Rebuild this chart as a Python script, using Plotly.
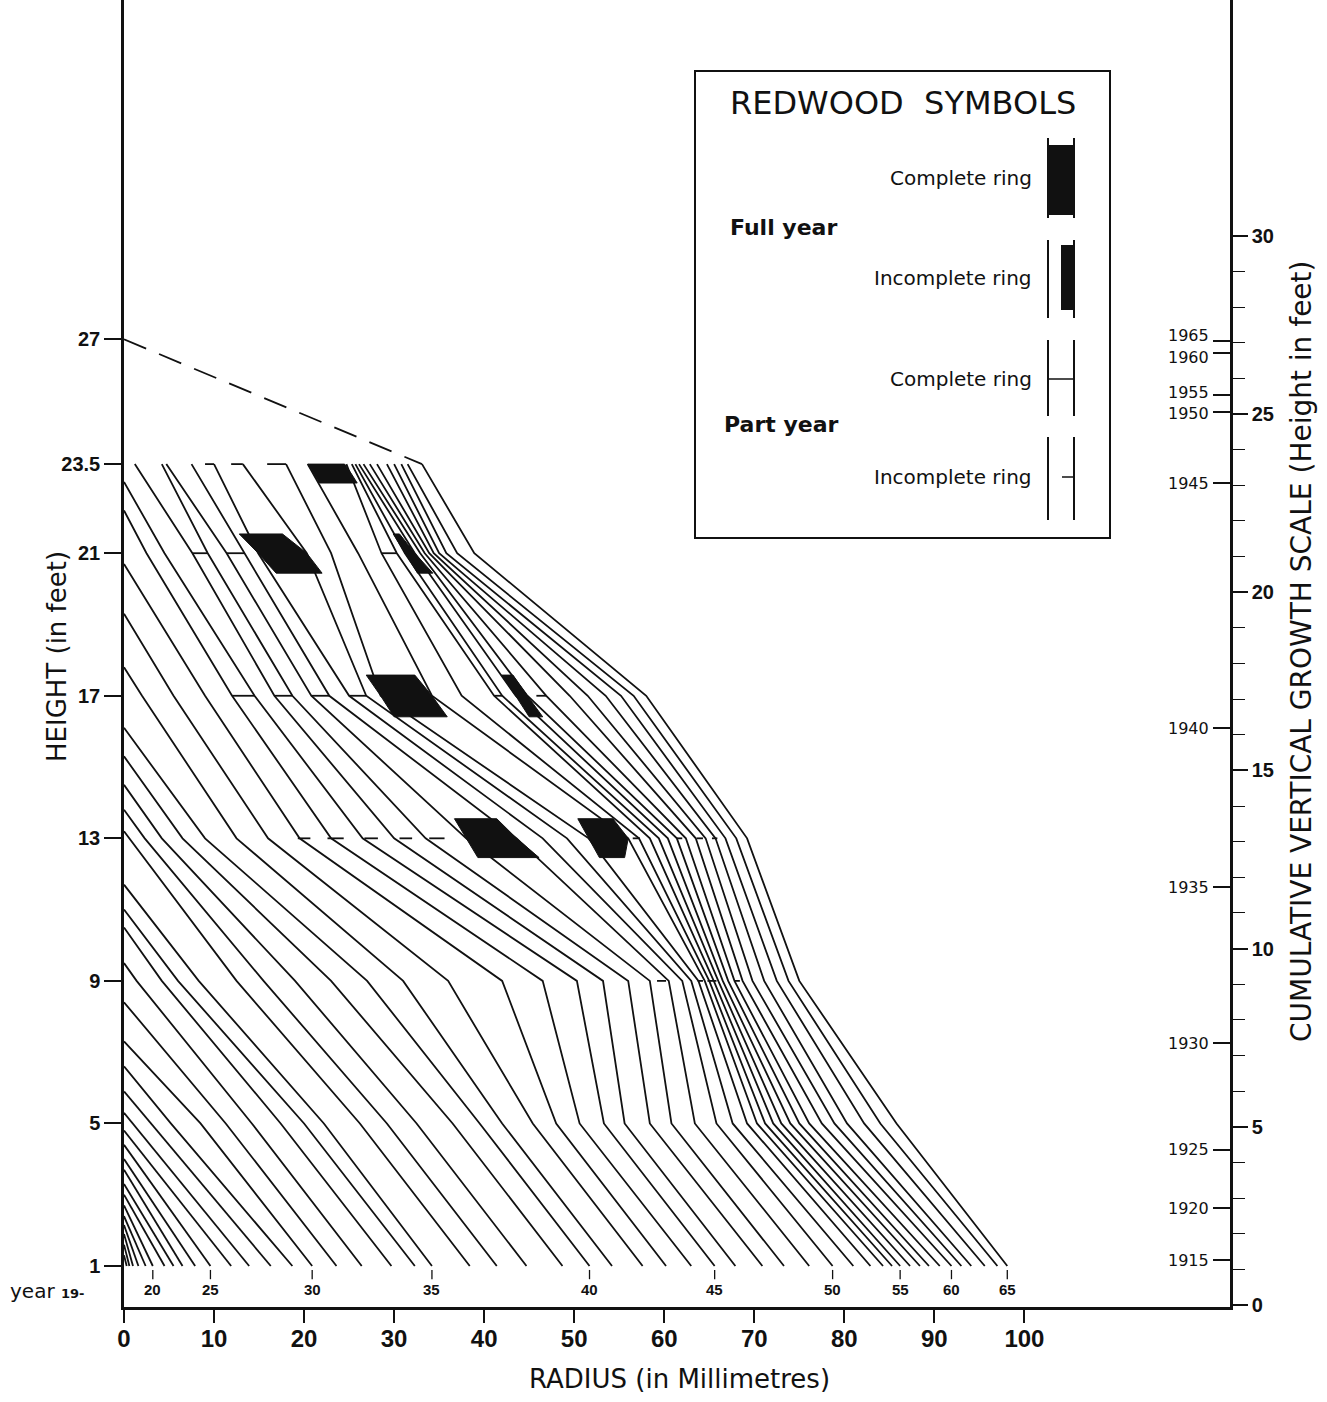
import plotly.graph_objects as go

# ---------------- DATA ----------------
YEARS = list(range(1915, 1966))
MEAS_H = [1, 5, 9, 13, 17, 21, 23.5]

# height (ft) at which each ring reaches the pith (tree top that year), 1915..1945
TOP_H = [1.3, 1.6, 1.9, 2.15, 2.4, 2.7, 3.0, 3.3, 3.7, 4.0,
         4.4, 4.8, 5.3, 5.9, 6.6, 7.3, 8.4, 9.5, 10.5, 11.0,
         11.7, 13.2, 13.8, 14.5, 15.3, 16.1, 17.8, 19.3, 20.7, 22.2, 23.0]

# radius (mm) of each ring boundary at each measurement height
R1 = [0.3, 0.6, 1.0, 1.6, 2.4, 3.2, 4.5, 5.5, 6.5, 7.9,
      9.6, 11.9, 13.9, 16.3, 18.7, 20.9, 23.6, 26.4, 29.7, 32.3,
      34.2, 38.4, 41.4, 44.7, 48.7, 51.7, 54.2, 57.6, 60.2, 63.0,
      65.6, 67.9, 70.9, 73.3, 76.1, 78.7, 81.0, 82.9, 84.3, 85.3,
      86.2, 87.3, 88.4, 89.4, 90.6, 91.9, 93.0, 94.1, 95.6, 97.0, 98.1]       # 1915..
R5 = [1.0, 3.0, 5.2, 8.5, 11.3, 14.2, 17.4, 20.0, 22.2, 26.2,
      29.2, 32.5, 36.5, 39.5, 42.0, 45.4, 48.0, 50.6, 53.3, 55.6,
      58.4, 60.8, 63.4, 65.8, 67.6, 69.2, 70.3, 71.2, 72.1, 73.0,
      74.0, 75.0, 76.1, 77.5, 78.9, 80.3, 82.2, 84.0, 85.8]                   # 1927..
R9 = [1.4, 4.2, 6.0, 8.3, 12.5, 15.5, 19.0, 23.0, 27.0, 31.0,
      36.0, 42.0, 46.5, 50.3, 53.2, 56.0, 58.4, 60.5, 62.0, 63.0,
      63.8, 64.5, 65.0, 65.5, 66.0, 66.5, 67.1, 67.8, 68.7, 69.8,
      71.1, 72.5, 73.8, 75.0]                                                  # 1932..
R13 = [0.6, 2.3, 4.2, 6.5, 9.0, 12.5, 16.0, 19.5, 23.0, 26.5,
       30.0, 33.5, 38.0, 43.6, 46.5, 49.2, 51.6, 56.0, 57.2, 58.4,
       59.4, 60.4, 61.4, 62.4, 63.5, 64.6, 65.7, 66.8, 68.0, 69.2]             # 1936..
R17 = [2.0, 5.5, 9.0, 12.0, 14.5, 16.7, 18.7, 20.8, 22.8, 25.0,
       26.9, 28.5, 34.2, 37.5, 41.1, 42.0, 43.5, 44.8, 46.9, 49.5,
       51.5, 53.5, 55.2, 56.6, 58.0]                                           # 1941..
R21 = [2.5, 4.5, 7.6, 9.3, 11.4, 13.4, 14.9, 20.3, 23.0, 26.0,
       28.6, 30.3, 31.2, 32.3, 32.9, 33.4, 33.9, 34.4, 35.0, 35.8,
       37.0, 38.9]                                                             # 1944..
R235 = [1.2, 4.2, 4.7, 7.5, 10.0, 13.2, 18.0, 20.4, 24.7, 25.3,
        25.7, 26.1, 26.6, 27.3, 28.1, 29.2, 30.0, 30.8, 31.5, 33.1]           # 1946..
R_ARRAYS = [R1, R5, R9, R13, R17, R21, R235]
FIRST_YEAR = [1915, 1927, 1932, 1936, 1941, 1944, 1946]

TOP_1965 = 27.0   # extrapolated tree top (dashed)

# part-year rings (horizontal dashes): height, start radius, end radius
DASH_H = [23.5, 23.5, 23.5, 21, 21, 21, 17, 17, 17, 17, 17, 17,
          13, 13, 13, 13, 13, 13, 13, 13, 13, 9, 9, 9, 9]
DASH_R0 = [9.0, 11.9, 15.9, 7.6, 11.4, 28.6, 12.0, 16.7, 20.8, 25.0, 41.1, 45.8,
           19.3, 22.6, 26.7, 30.6, 33.9, 56.5, 61.4, 63.6, 65.3, 59.2, 63.7, 64.8, 67.8]
DASH_R1 = [10.0, 13.2, 18.0, 9.3, 13.4, 30.3, 14.5, 18.7, 22.8, 26.9, 42.0, 46.9,
           20.7, 24.4, 28.2, 32.0, 35.6, 57.3, 62.0, 64.3, 65.9, 60.2, 64.3, 65.8, 68.4]

# full-year rings (filled): top/bottom heights and edge radii (top, middle, bottom)
BLK_TOP = [23.5, 21.54, 21.54, 17.58, 17.58, 13.55, 13.55]
BLK_MID = [23.25, 21.0, 21.0, 17.0, 17.0, 13.0, 13.0]
BLK_BOT = [22.97, 20.44, 20.44, 16.41, 16.41, 12.46, 12.46]
BLK_L = [(20.4, 21.0, 21.7), (12.8, 14.9, 16.9), (29.9, 31.2, 32.6), (26.9, 28.5, 30.0),
         (41.9, 43.5, 45.0), (36.7, 38.0, 39.3), (50.4, 51.6, 52.8)]
BLK_R = [(24.5, 25.2, 25.9), (17.6, 20.3, 22.0), (30.6, 32.3, 34.3), (32.3, 34.2, 35.9),
         (43.2, 44.8, 46.5), (41.4, 43.6, 46.1), (54.3, 56.0, 55.6)]

# right-hand cumulative growth scale: year marks
YEAR_MARK = [1915, 1920, 1925, 1930, 1935, 1940, 1945, 1950, 1955, 1960, 1965]
YEAR_MARK_H = [1.26, 2.72, 4.35, 7.35, 11.72, 16.18, 23.06, 25.06, 25.54, 26.72, 27.05]
GROWTH_TICKS = list(range(0, 31, 5))
GROWTH_MINOR = list(range(0, 31))

LEFT_TICKS = [1, 5, 9, 13, 17, 21, 23.5, 27]
LEFT_TICKTEXT = ["1", "5", "9", "13", "17", "21", "23.5", "27"]
X_TICKS = list(range(0, 101, 10))
BOTTOM_YEAR_LABELS = [20, 25, 30, 35, 40, 45, 50, 55, 60, 65]

# ---------------- LAYOUT HELPERS ----------------
W, H = 1327, 1402
ML = 124
MT = 0
PW = 1106
PH = 1307 - MT
MR = W - ML - PW
MB = H - MT - PH
XR = [0, PW / 9.004]
YR = [-0.15, -0.15 + PH / 35.64]
YR2 = [-0.056, -0.056 + PH / 35.64]


def px(xp):
    return (xp - ML) / PW


def py(yp):
    return (MT + PH - yp) / PH


BLACK = "#111111"
FONT = "Liberation Sans, Arial, sans-serif"
NARROW = "Liberation Sans Narrow, Liberation Sans, Arial, sans-serif"
WIDE = "DejaVu Sans, Liberation Sans, sans-serif"

fig = go.Figure()

# ---------------- RING LINES ----------------
lx, ly = [], []
for y in YEARS:
    pts = []
    for h, arr, fy in zip(MEAS_H, R_ARRAYS, FIRST_YEAR):
        j = y - fy
        if 0 <= j < len(arr):
            pts.append((arr[j], h))
    if y - 1915 < len(TOP_H):
        pts.append((0.0, TOP_H[y - 1915]))
    for xv, yv in pts:
        lx.append(xv)
        ly.append(yv)
    lx.append(None)
    ly.append(None)
fig.add_trace(go.Scatter(x=lx, y=ly, mode="lines", line=dict(color=BLACK, width=1.8),
                         hoverinfo="skip", showlegend=False))

# dashes
dx, dy = [], []
for h, a, b in zip(DASH_H, DASH_R0, DASH_R1):
    dx += [a, b, None]
    dy += [h, h, None]
fig.add_trace(go.Scatter(x=dx, y=dy, mode="lines", line=dict(color=BLACK, width=1.8),
                         hoverinfo="skip", showlegend=False))

# filled full-year blocks
for t, m, b, L, R in zip(BLK_TOP, BLK_MID, BLK_BOT, BLK_L, BLK_R):
    fig.add_trace(go.Scatter(x=[L[0], R[0], R[1], R[2], L[2], L[1], L[0]],
                             y=[t, t, m, b, b, m, t], mode="lines", fill="toself",
                             fillcolor=BLACK, line=dict(color=BLACK, width=1),
                             hoverinfo="skip", showlegend=False))

# dashed extrapolated top
fig.add_trace(go.Scatter(x=[0, R235[-1]], y=[TOP_1965, MEAS_H[-1]], mode="lines",
                         line=dict(color=BLACK, width=1.8, dash="24px,14px"),
                         hoverinfo="skip", showlegend=False))

# bottom "year 19-" labels with small ticks
tx, ty = [], []
for yl in BOTTOM_YEAR_LABELS:
    r = R1[1900 + yl - 1915]
    tx += [r, r, None]
    ty += [0.63, 0.89, None]
    fig.add_annotation(x=r, y=0.33, text="<b>%d</b>" % yl, showarrow=False,
                       xanchor="center", yanchor="middle",
                       font=dict(family=FONT, size=15, color=BLACK))
fig.add_trace(go.Scatter(x=tx, y=ty, mode="lines", line=dict(color=BLACK, width=1.3),
                         hoverinfo="skip", showlegend=False))
fig.add_annotation(xref="paper", yref="paper", x=px(8), y=py(1291), xanchor="left",
                   yanchor="middle",
                   text="year <span style='font-size:13px'><b>19-</b></span>", showarrow=False,
                   font=dict(family=WIDE, size=20, color=BLACK))

# ---------------- AXES ----------------
fig.update_layout(
    width=W, height=H, margin=dict(l=ML, r=MR, t=MT, b=MB, autoexpand=False),
    paper_bgcolor="white", plot_bgcolor="white", showlegend=False,
    xaxis=dict(range=XR, showgrid=False, zeroline=False, showline=True, linecolor=BLACK,
               linewidth=2.5, ticks="outside", ticklen=13, tickwidth=2, tickcolor=BLACK,
               ticklabelstandoff=-5,
               tickvals=X_TICKS, ticktext=["<b>%d</b>" % v for v in X_TICKS],
               tickfont=dict(family=NARROW, size=24, color=BLACK)),
    yaxis=dict(range=YR, showgrid=False, zeroline=False, showline=True, linecolor=BLACK,
               linewidth=2.5, ticks="outside", ticklen=17, tickwidth=1.5, tickcolor=BLACK,
               tickvals=LEFT_TICKS, ticktext=["<b>%s</b>" % t for t in LEFT_TICKTEXT],
               tickfont=dict(family=FONT, size=20, color=BLACK)),
    yaxis2=dict(range=YR2, overlaying="y", side="right", anchor="x", showgrid=False,
                zeroline=False, showline=True, linecolor=BLACK, linewidth=2.5,
                ticks="outside", ticklen=15, tickwidth=1.5, tickcolor=BLACK,
                tickvals=GROWTH_TICKS,
                ticktext=["<b>%d</b>" % v for v in GROWTH_TICKS],
                tickfont=dict(family=FONT, size=20, color=BLACK),
                minor=dict(tickvals=GROWTH_MINOR, ticks="outside", ticklen=12, tickwidth=1.2,
                           tickcolor=BLACK, showgrid=False)),
    yaxis3=dict(range=YR2, overlaying="y", side="right", anchor="free", position=1,
                showgrid=False, zeroline=False, showline=False,
                ticks="inside", ticklen=17, tickwidth=1.5, tickcolor=BLACK,
                showticklabels=False, tickvals=YEAR_MARK_H),
)
# dummy traces to activate overlay axes
fig.add_trace(go.Scatter(x=[None], y=[None], yaxis="y2", showlegend=False))
fig.add_trace(go.Scatter(x=[None], y=[None], yaxis="y3", showlegend=False))

# year labels on the growth scale (the two closest pairs nudged apart slightly)
YEAR_NUDGE = {1965: 5, 1960: -5, 1955: 2, 1950: -2}
for yr, hh in zip(YEAR_MARK, YEAR_MARK_H):
    fig.add_annotation(xref="paper", yref="y3", x=px(1211), y=hh, xanchor="right",
                       yanchor="middle", yshift=YEAR_NUDGE.get(yr, 0), text=str(yr),
                       showarrow=False, font=dict(family=WIDE, size=16, color=BLACK))

# axis titles
fig.add_annotation(xref="paper", yref="paper", x=px(57), y=py(657), textangle=-90,
                   xanchor="center", yanchor="middle",
                   text="HEIGHT (in feet)", showarrow=False,
                   font=dict(family=WIDE, size=26, color=BLACK))
fig.add_annotation(xref="paper", yref="paper", x=px(679), y=py(1379),
                   xanchor="center", yanchor="middle",
                   text="RADIUS (in Millimetres)", showarrow=False,
                   font=dict(family=WIDE, size=26, color=BLACK))
fig.add_annotation(xref="paper", yref="paper", x=px(1301), y=py(652), textangle=-90,
                   xanchor="center", yanchor="middle",
                   text="CUMULATIVE VERTICAL GROWTH SCALE (Height in feet)", showarrow=False,
                   font=dict(family=WIDE, size=28, color=BLACK))

# ---------------- LEGEND BOX ----------------
shapes = []
shapes.append(dict(type="rect", xref="paper", yref="paper", x0=px(695), x1=px(1110),
                   y0=py(538), y1=py(71), line=dict(color=BLACK, width=2), fillcolor="white",
                   layer="above"))
sym_rows = [(138, 218), (240, 318), (340, 416), (437, 520)]
for y0, y1 in sym_rows:
    for xx in (1048, 1074):
        shapes.append(dict(type="line", xref="paper", yref="paper", x0=px(xx), x1=px(xx),
                           y0=py(y0), y1=py(y1), line=dict(color=BLACK, width=2), layer="above"))
shapes.append(dict(type="rect", xref="paper", yref="paper", x0=px(1048), x1=px(1074),
                   y0=py(215), y1=py(145), fillcolor=BLACK, line=dict(width=0), layer="above"))
shapes.append(dict(type="rect", xref="paper", yref="paper", x0=px(1061), x1=px(1074),
                   y0=py(310), y1=py(245), fillcolor=BLACK, line=dict(width=0), layer="above"))
shapes.append(dict(type="line", xref="paper", yref="paper", x0=px(1048), x1=px(1074),
                   y0=py(379), y1=py(379), line=dict(color=BLACK, width=1.5), layer="above"))
shapes.append(dict(type="line", xref="paper", yref="paper", x0=px(1062), x1=px(1074),
                   y0=py(477), y1=py(477), line=dict(color=BLACK, width=1.5), layer="above"))
fig.update_layout(shapes=shapes)

fig.add_annotation(xref="paper", yref="paper", x=px(903), y=py(103),
                   xanchor="center", yanchor="middle",
                   text="REDWOOD  SYMBOLS", showarrow=False,
                   font=dict(family=WIDE, size=32, color=BLACK))
for txt, yy in [("Complete ring", 178), ("Incomplete ring", 278),
                ("Complete ring", 379), ("Incomplete ring", 477)]:
    fig.add_annotation(xref="paper", yref="paper", x=px(1034), y=py(yy), xanchor="right",
                       yanchor="middle",
                       text=txt, showarrow=False, font=dict(family=WIDE, size=20, color=BLACK))
for txt, xx, yy in [("Full year", 728, 227), ("Part year", 722, 424)]:
    fig.add_annotation(xref="paper", yref="paper", x=px(xx), y=py(yy), xanchor="left",
                       yanchor="middle",
                       text="<b>%s</b>" % txt, showarrow=False,
                       font=dict(family=WIDE, size=22, color=BLACK))

fig.write_html("out.html", config={"displayModeBar": False},
               post_script="document.body.style.margin='0';")
